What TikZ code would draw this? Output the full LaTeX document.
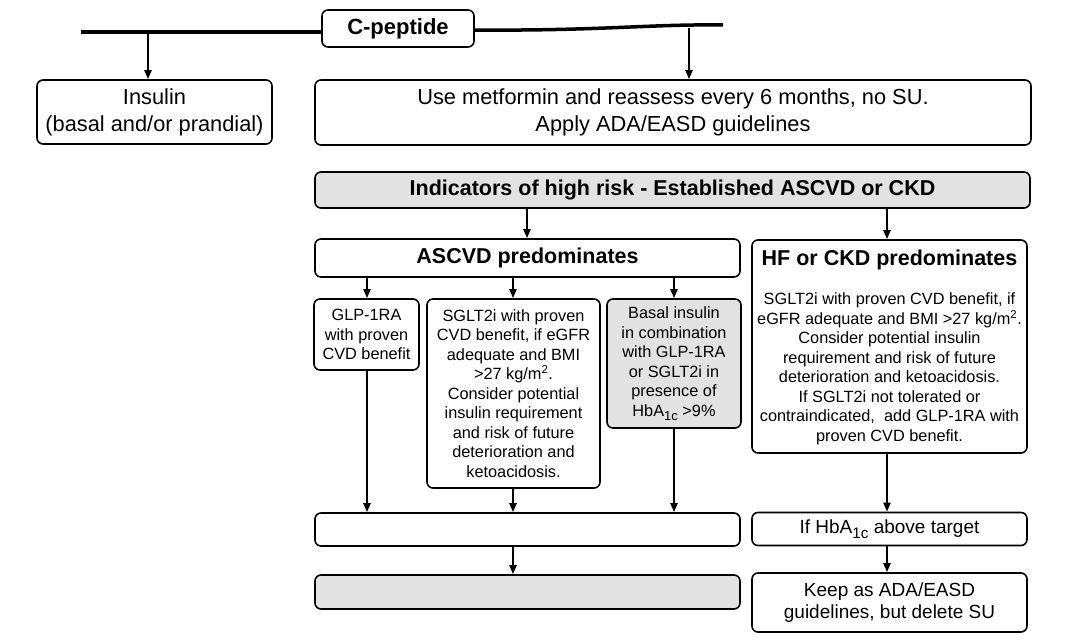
\documentclass[tikz,border=0pt]{standalone}
\usepackage{fontspec}
\setmainfont{Liberation Sans}
\usetikzlibrary{arrows.meta}
\definecolor{boxgray}{RGB}{226,226,226}
\newcommand\lowsub[1]{\raisebox{-0.45ex}{\scalebox{0.8}{#1}}}
\begin{document}
\begin{tikzpicture}[x=1pt,y=-1pt,
  bx/.style={draw, rounded corners=6pt, line width=1.6pt, align=center, inner sep=0pt, fill=white},
  gbx/.style={bx, fill=boxgray},
  arr/.style={line width=2pt, -{Triangle[length=9pt,width=7pt]}},
  topline/.style={line width=3.5pt},
  bigb/.style={font=\fontsize{21.5}{25}\selectfont\bfseries},
  lg/.style={font=\fontsize{21.8}{27}\selectfont},
  md/.style={font=\fontsize{19}{21.5}\selectfont},
  sm/.style={font=\fontsize{16.3}{19.5}\selectfont}]
\useasboundingbox (0,0) rectangle (1080,642);
% column coordinates
\coordinate (x1) at (367,0);
\coordinate (x2) at (513,0);
\coordinate (x3) at (674,0);
\coordinate (xa) at (527,0);
\coordinate (xh) at (887,0);
% top
\node[bx, minimum width=152pt, minimum height=37pt, font=\fontsize{22}{26}\selectfont\bfseries] (cpep) at (398,28.5) {C-peptide};
\coordinate (lend) at (81,32);
\coordinate (rstart) at (474,30);
\coordinate (rend) at (723,25);
\coordinate (lj) at (148,32);
\coordinate (rj) at (689,28);
\draw[topline] (lend) -- (cpep.west |- lend);
\draw[topline] (rstart) .. controls (600,31) and (650,24) .. (rend);
\node[bx, minimum width=235pt, minimum height=64pt, lg] (insulin) at (154.5,112) {Insulin\\(basal and/or prandial)};
\node[bx, minimum width=716pt, minimum height=65pt, lg] (metf) at (673,112.5) {Use metformin and reassess every 6 months, no SU.\\Apply ADA/EASD guidelines};
\draw[arr] (lj) -- (lj |- insulin.north);
\draw[arr] (rj) -- (rj |- metf.north);
% indicators
\node[gbx, minimum width=715pt, minimum height=36pt, bigb] (ind) at (672.5,190) {Indicators of high risk - Established ASCVD or CKD};
\node[bx, minimum width=425pt, minimum height=38pt, bigb] (ascvd) at (527.5,258) {ASCVD predominates};
\node[bx, minimum width=275pt, minimum height=213pt] (hf) at (889.5,346.5) {};
\node[bigb] (hftitle) at (889.5,260) {HF or CKD predominates};
\node[sm, align=center, inner sep=0pt] (hfbody) at (889.5,369) {SGLT2i with proven CVD benefit, if\\eGFR adequate and BMI >27 kg/m\textsuperscript{2}.\\Consider potential insulin\\requirement and risk of future\\deterioration and ketoacidosis.\\If SGLT2i not tolerated or\\contraindicated,\ \ add GLP-1RA with\\proven CVD benefit.};
\draw[arr] (xa |- ind.south) -- (xa |- ascvd.north);
\draw[arr] (xh |- ind.south) -- (xh |- hf.north);
% small boxes
\node[bx, minimum width=105pt, minimum height=71pt, sm] (glp) at (366.5,334.5) {GLP-1RA\\with proven\\CVD benefit};
\node[bx, minimum width=173pt, minimum height=189pt, sm] (sglt) at (513.5,393.5) {SGLT2i with proven\\CVD benefit, if eGFR\\adequate and BMI\\>27 kg/m\textsuperscript{2}.\\Consider potential\\insulin requirement\\and risk of future\\deterioration and\\ketoacidosis.};
\node[gbx, minimum width=134pt, minimum height=129pt, sm] (basal) at (674,363.5) {Basal insulin\\in combination\\with GLP-1RA\\or SGLT2i in\\presence of\\HbA\lowsub{1c} >9\%};
\draw[arr] (x1 |- ascvd.south) -- (x1 |- glp.north);
\draw[arr] (x2 |- ascvd.south) -- (x2 |- sglt.north);
\draw[arr] (x3 |- ascvd.south) -- (x3 |- basal.north);
% bottom
\node[bx, minimum width=425pt, minimum height=33pt] (left1) at (527.5,529.5) {};
\node[gbx, minimum width=425pt, minimum height=34pt] (left2) at (527.5,592) {};
\node[bx, minimum width=275pt, minimum height=33pt, md] (hba) at (889.5,529) {If HbA\lowsub{1c} above target};
\node[bx, minimum width=275pt, minimum height=59pt, md] (keep) at (889.5,602.5) {Keep as ADA/EASD\\guidelines, but delete SU};
\draw[arr] (x1 |- glp.south) -- (x1 |- left1.north);
\draw[arr] (x2 |- sglt.south) -- (x2 |- left1.north);
\draw[arr] (x3 |- basal.south) -- (x3 |- left1.north);
\draw[arr] (x2 |- left1.south) -- (x2 |- left2.north);
\draw[arr] (xh |- hf.south) -- (xh |- hba.north);
\draw[arr] (xh |- hba.south) -- (xh |- keep.north);
\end{tikzpicture}
\end{document}
